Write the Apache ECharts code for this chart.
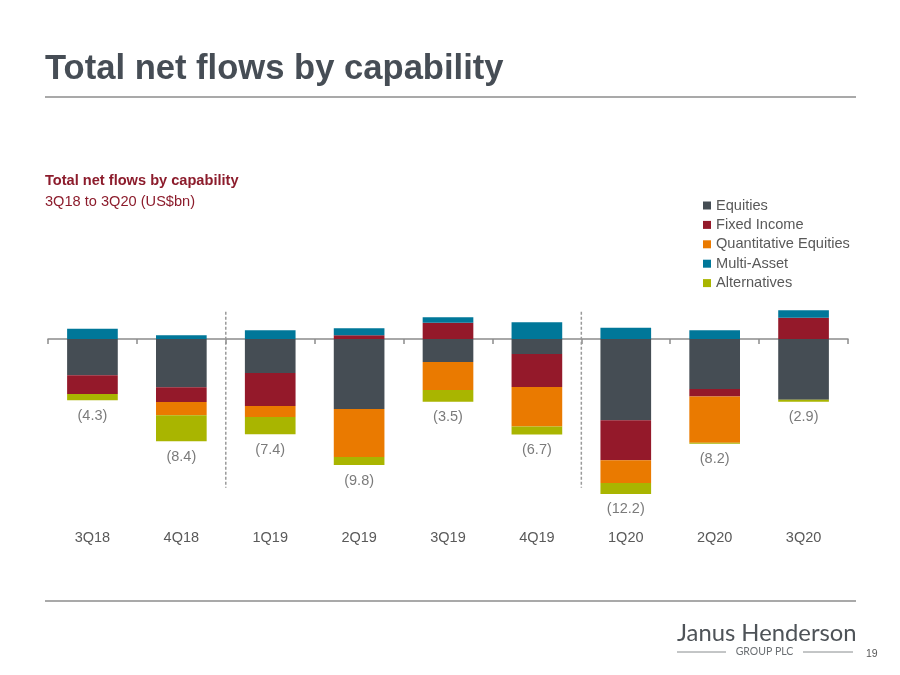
<!DOCTYPE html>
<html>
<head>
<meta charset="utf-8">
<script src="https://cdn.jsdelivr.net/npm/echarts@6/dist/echarts.min.js"></script>
<style>html,body{margin:0;padding:0;background:#fff}#c{width:900px;height:675px}</style>
</head>
<body>
<div id="c"></div>
<script>
const categories = ['3Q18','4Q18','1Q19','2Q19','3Q19','4Q19','1Q20','2Q20','3Q20'];
const equities      = [-3.09,-4.11,-2.89,-5.96,-1.96,-1.28,-6.92,-4.25,-5.16];
const fixedIncome   = [-1.59,-1.25,-2.81, 0.31, 1.39,-2.81,-3.40,-0.65, 1.81];
const quantEquities = [ 0.00,-1.13,-0.94,-4.09,-2.38,-3.35,-1.93,-3.94, 0.00];
const multiAsset    = [ 0.88, 0.31, 0.74, 0.60, 0.46, 1.42, 0.96, 0.74, 0.63];
const alternatives  = [-0.54,-2.21,-1.47,-0.68,-1.00,-0.68,-0.94,-0.08,-0.17];
const netTotals     = [-4.3,-8.4,-7.4,-9.8,-3.5,-6.7,-12.2,-8.2,-2.9];
const separatorsAfter = [1, 5];
const separatorRange = [2.32, -12.65];

const seriesDefs = [
  {name:'Equities', data:equities, color:'#454d54'},
  {name:'Fixed Income', data:fixedIncome, color:'#94192a'},
  {name:'Quantitative Equities', data:quantEquities, color:'#ea7a00'},
  {name:'Multi-Asset', data:multiAsset, color:'#007799'},
  {name:'Alternatives', data:alternatives, color:'#a9b500'}
];

const negBottoms = categories.map((c,i)=>seriesDefs.reduce((s,d)=>s+Math.min(0,d.data[i]),0));

const font = 'Liberation Sans, Arial, sans-serif';
const chart = echarts.init(document.getElementById('c'));

const series = seriesDefs.map(d=>({
  name:d.name, type:'bar', stack:'flows', data:d.data, barWidth:'57%',
  itemStyle:{color:d.color}, xAxisIndex:0, yAxisIndex:0
}));
series.push({
  type:'scatter', data:negBottoms, symbolSize:0, silent:true, xAxisIndex:0,
  label:{show:true, position:'bottom', distance:8, color:'#595959', fontSize:14.5, fontFamily:font,
    formatter:p=>'(' + Math.abs(netTotals[p.dataIndex]).toFixed(1) + ')'}
});
series.push({
  type:'custom', silent:true, xAxisIndex:0,
  data:separatorsAfter.map(i=>[i, separatorRange[0], separatorRange[1]]),
  renderItem:(params, api)=>{
    const idx = api.value(0);
    const bw = api.size([1,0])[0];
    const top = api.coord([idx, api.value(1)]);
    const bot = api.coord([idx, api.value(2)]);
    const x = top[0] + bw/2;
    return {type:'line', shape:{x1:x, y1:top[1], x2:x, y2:bot[1]},
      style:{stroke:'#9a9a9a', lineWidth:1.5, lineDash:[3,2]}};
  }
});

chart.setOption({
  animation:false,
  title:[
    {text:'Total net flows by capability', left:45, top:52, padding:0,
     textStyle:{fontFamily:font, fontSize:34.6, fontWeight:'bold', color:'#464d55'}},
    {text:'Total net flows by capability', left:45, top:173, padding:0,
     textStyle:{fontFamily:font, fontSize:14.6, fontWeight:'bold', color:'#8c1c2c'}},
    {text:'3Q18 to 3Q20 (US$bn)', left:45, top:194, padding:0,
     textStyle:{fontFamily:font, fontSize:14.6, fontWeight:'normal', color:'#8c1c2c'}}
  ],
  legend:{
    orient:'vertical', left:703, top:198, padding:0, icon:'rect', itemWidth:8, itemHeight:8, itemGap:4.4,
    data:seriesDefs.map(d=>d.name),
    textStyle:{fontFamily:font, fontSize:14.6, color:'#595959', lineHeight:15}
  },
  grid:{left:48, right:52, top:303.75, bottom:171.5},
  xAxis:[
    {type:'category', data:categories, position:'bottom',
     axisLine:{onZero:true, lineStyle:{color:'#8c8c8c', width:1.5}},
     axisTick:{show:true, length:5, lineStyle:{color:'#8c8c8c', width:1.5}},
     axisLabel:{show:false}, splitLine:{show:false}},
    {type:'category', data:categories, position:'bottom',
     axisLine:{show:false, onZero:false}, axisTick:{show:false},
     axisLabel:{show:true, margin:26.5, color:'#595959', fontSize:14.5, fontFamily:font}}
  ],
  yAxis:{type:'value', min:-14, max:3, show:false, splitLine:{show:false}},
  graphic:[
    {type:'line', shape:{x1:45, y1:97, x2:856, y2:97}, style:{stroke:'#8c8c8c', lineWidth:1.5}},
    {type:'line', shape:{x1:45, y1:601, x2:856, y2:601}, style:{stroke:'#8c8c8c', lineWidth:1.5}},
    {type:'text', left:677, top:621, style:{text:'Janus Henderson', fontFamily:'Lato, sans-serif', fontSize:23.8, fill:'#4e5358'}},
    {type:'text', x:764.5, y:652, style:{text:'GROUP PLC', fontFamily:'Lato, sans-serif', fontSize:10.5, fill:'#6a6e72', align:'center', verticalAlign:'middle'}},
    {type:'line', shape:{x1:677, y1:652, x2:726, y2:652}, style:{stroke:'#6a6e72', lineWidth:0.8}},
    {type:'line', shape:{x1:803, y1:652, x2:853, y2:652}, style:{stroke:'#6a6e72', lineWidth:0.8}},
    {type:'text', left:866, top:649, style:{text:'19', fontFamily:font, fontSize:10.5, fill:'#595959'}}
  ],
  series:series
});
</script>
</body>
</html>
